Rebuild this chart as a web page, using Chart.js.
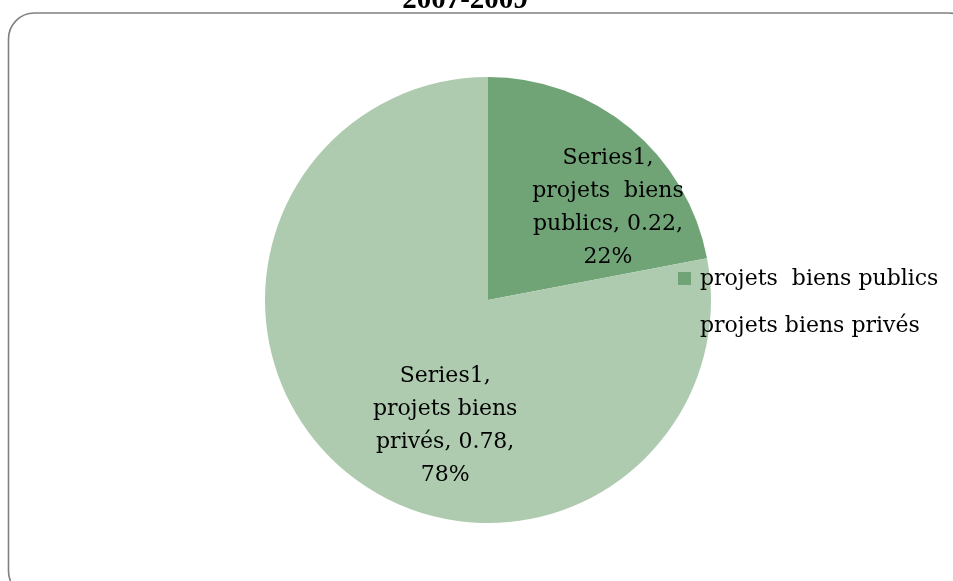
<!DOCTYPE html>
<html>
<head>
<meta charset="utf-8">
<script src="https://cdn.jsdelivr.net/npm/chart.js@4.4.1/dist/chart.umd.min.js"></script>
<style>
  html, body { margin: 0; padding: 0; background: #fff; }
  #wrap { width: 953px; height: 581px; position: relative; }
</style>
</head>
<body>
<div id="wrap"><canvas id="pie"></canvas></div>
<script>
// --- Chart data ---
const chartTitle = '2007-2009';
const seriesName = 'Series1';
const categories = ['projets  biens publics', 'projets biens privés'];
const values = [0.22, 0.78];
const sliceColors = ['#70a477', '#aecbaf'];

const LABEL_FONT = '22px "DejaVu Serif"';

// Frame, title, data labels and legend drawn like the original export
const decorPlugin = {
    id: 'decor',
    beforeDraw(chart) {
        const ctx = chart.ctx;
        ctx.save();
        ctx.fillStyle = '#fff';
        ctx.fillRect(0, 0, chart.width, chart.height);
        // rounded frame, partly outside the window
        ctx.strokeStyle = '#808080';
        ctx.lineWidth = 1.6;
        ctx.beginPath();
        ctx.roundRect(8.5, 13, 966, 584, 26);
        ctx.stroke();
        // title, mostly cut off at top
        ctx.fillStyle = '#000';
        ctx.font = 'bold 29px "Liberation Serif"';
        ctx.textAlign = 'center';
        ctx.textBaseline = 'alphabetic';
        ctx.fillText(chartTitle, 465, 8);
        ctx.restore();
    },
    afterDraw(chart, args, opts) {
        const ctx = chart.ctx;
        const meta = chart.getDatasetMeta(0);
        const total = values.reduce((a, b) => a + b, 0);
        ctx.save();
        ctx.fillStyle = '#000';
        ctx.font = LABEL_FONT;
        ctx.textAlign = 'center';
        ctx.textBaseline = 'middle';
        meta.data.forEach((arc, i) => {
            const p = opts.labelPlacement[i];
            const ang = arc.startAngle + (arc.endAngle - arc.startAngle) * p.along;
            const r = arc.outerRadius * p.dist;
            const cx = arc.x + Math.cos(ang) * r;
            const cy = arc.y + Math.sin(ang) * r;
            const lines = p.lines(seriesName, categories[i], values[i], Math.round(values[i] / total * 100) + '%');
            const lh = 33;
            lines.forEach((t, k) => {
                ctx.fillText(t, cx, cy + (k - (lines.length - 1) / 2) * lh);
            });
        });
        // legend on the right, overlapping the pie edge
        ctx.textAlign = 'left';
        categories.forEach((c, i) => {
            const y = 279 + i * 47;
            ctx.fillStyle = sliceColors[i];
            ctx.fillRect(678, y - 7, 13, 13);
            ctx.fillStyle = '#000';
            ctx.fillText(c, 700, y);
        });
        ctx.restore();
    }
};

new Chart(document.getElementById('pie'), {
    type: 'pie',
    data: {
        labels: categories,
        datasets: [{
            label: seriesName,
            data: values,
            backgroundColor: sliceColors,
            borderWidth: 0
        }]
    },
    options: {
        responsive: true,
        maintainAspectRatio: false,
        animation: false,
        layout: { padding: { left: 265, right: 242, top: 77, bottom: 58 } },
        plugins: {
            legend: { display: false },
            tooltip: { enabled: false },
            decor: {
                labelPlacement: [
                    { along: 0.663, dist: 0.678, lines: (s, c, v, pc) => [s + ',', 'projets  biens', 'publics, ' + v + ',', pc] },
                    { along: 0.426, dist: 0.595, lines: (s, c, v, pc) => [s + ',', 'projets biens', 'privés, ' + v + ',', pc] }
                ]
            }
        }
    },
    plugins: [decorPlugin]
});
</script>
</body>
</html>
